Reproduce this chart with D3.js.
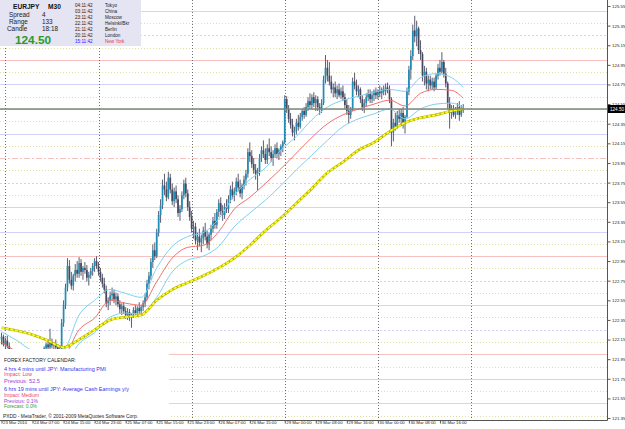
<!DOCTYPE html>
<html><head><meta charset="utf-8">
<script src="https://cdn.jsdelivr.net/npm/d3@7/dist/d3.min.js"></script>
<style>body{margin:0;background:#fff}svg{display:block}</style>
</head><body>
<svg id="c" width="625" height="429"></svg>
<script>
// ---------- DATA ----------
const symbol = "EURJPY", timeframe = "M30";
const bid = 124.50;
const opens = [122.15,122.18,122.10,122.14,122.08,122.03,121.99,121.95,121.97,121.94,121.91,121.93,121.96,121.94,121.90,121.92,121.95,121.93,121.94,121.97,121.96,121.98,122.00,122.06,122.10,122.07,122.12,122.09,122.10,122.07,122.04,122.05,122.32,122.50,122.68,122.90,122.76,122.70,122.80,122.86,122.82,122.93,122.84,122.88,122.86,122.78,122.81,122.85,122.90,122.95,122.90,122.84,122.78,122.72,122.66,122.52,122.55,122.60,122.62,122.56,122.59,122.51,122.46,122.49,122.44,122.40,122.43,122.38,122.41,122.45,122.42,122.47,122.44,122.48,122.52,122.58,122.72,122.80,122.94,123.06,123.00,123.24,123.42,123.52,123.72,123.68,123.60,123.80,123.68,123.56,123.66,123.58,123.44,123.48,123.62,123.74,123.64,123.50,123.40,123.28,123.30,123.16,123.20,123.14,123.18,123.26,123.20,123.12,123.22,123.28,123.36,123.32,123.45,123.54,123.46,123.42,123.50,123.48,123.58,123.68,123.62,123.66,123.76,123.70,123.64,123.72,123.78,123.84,124.06,124.02,123.94,123.88,123.84,123.86,124.00,124.08,124.04,123.98,124.10,124.06,124.00,124.04,124.10,124.04,124.08,124.12,124.16,124.60,124.50,124.40,124.34,124.26,124.28,124.36,124.32,124.42,124.48,124.44,124.52,124.58,124.54,124.62,124.56,124.60,124.52,124.50,124.56,124.80,124.92,124.84,124.78,124.70,124.72,124.66,124.70,124.64,124.68,124.62,124.54,124.48,124.44,124.50,124.78,124.74,124.68,124.70,124.60,124.52,124.56,124.62,124.66,124.60,124.64,124.68,124.64,124.68,124.66,124.70,124.68,124.72,124.70,124.60,124.26,124.36,124.32,124.44,124.40,124.46,124.36,124.42,124.68,124.90,125.04,125.30,125.24,125.32,125.10,125.06,124.84,124.88,124.76,124.80,124.74,124.78,124.72,124.84,124.92,124.88,124.98,124.86,124.76,124.56,124.46,124.50,124.44,124.48,124.52,124.44,124.50];
const highs = [122.22,122.20,122.17,122.19,122.12,122.06,122.01,121.99,122.00,121.97,121.95,121.98,122.00,121.96,121.94,121.97,122.00,121.96,121.99,122.01,122.00,122.02,122.08,122.12,122.14,122.26,122.16,122.12,122.15,122.10,122.08,122.36,122.55,122.72,122.98,122.96,122.84,122.82,122.92,122.95,122.99,122.97,122.90,122.94,122.91,122.84,122.88,122.93,122.98,123.00,122.94,122.88,122.82,122.78,122.70,122.58,122.64,122.68,122.66,122.63,122.62,122.55,122.52,122.53,122.48,122.47,122.46,122.42,122.48,122.50,122.49,122.53,122.50,122.55,122.62,122.76,122.84,122.98,123.12,123.14,123.28,123.46,123.58,123.78,123.84,123.76,123.86,123.84,123.74,123.70,123.72,123.62,123.52,123.66,123.78,123.80,123.68,123.56,123.46,123.36,123.34,123.24,123.28,123.22,123.30,123.34,123.26,123.24,123.32,123.40,123.44,123.48,123.58,123.60,123.52,123.54,123.58,123.62,123.72,123.76,123.70,123.80,123.84,123.78,123.74,123.82,123.88,124.10,124.16,124.08,124.00,123.94,123.90,124.04,124.12,124.18,124.10,124.14,124.20,124.12,124.08,124.14,124.16,124.10,124.14,124.18,124.64,124.63,124.54,124.46,124.40,124.32,124.40,124.44,124.46,124.50,124.52,124.56,124.62,124.66,124.65,124.67,124.64,124.63,124.56,124.60,124.84,125.05,125.00,124.98,124.84,124.76,124.78,124.74,124.76,124.72,124.74,124.66,124.60,124.54,124.52,124.82,124.87,124.80,124.74,124.72,124.64,124.60,124.66,124.70,124.70,124.68,124.70,124.72,124.70,124.74,124.72,124.74,124.76,124.77,124.74,124.62,124.40,124.46,124.48,124.50,124.50,124.52,124.44,124.72,124.94,125.10,125.36,125.45,125.40,125.34,125.20,125.08,124.94,124.92,124.84,124.84,124.82,124.82,124.86,124.96,125.00,125.08,125.00,124.92,124.78,124.62,124.54,124.54,124.52,124.56,124.58,124.54,124.55];
const lows = [122.10,122.08,122.04,122.06,122.00,121.96,121.93,121.90,121.92,121.88,121.87,121.90,121.92,121.88,121.86,121.89,121.91,121.89,121.91,121.93,121.93,121.94,121.98,122.03,122.04,122.05,122.06,122.04,122.05,122.02,122.00,122.03,122.28,122.46,122.64,122.72,122.66,122.65,122.74,122.78,122.78,122.80,122.76,122.82,122.74,122.70,122.77,122.80,122.84,122.87,122.80,122.74,122.68,122.62,122.48,122.45,122.50,122.55,122.52,122.50,122.48,122.42,122.40,122.41,122.36,122.35,122.34,122.27,122.37,122.38,122.39,122.41,122.39,122.44,122.48,122.55,122.66,122.76,122.88,122.96,122.98,123.20,123.34,123.48,123.62,123.56,123.58,123.64,123.52,123.50,123.54,123.40,123.36,123.45,123.58,123.60,123.46,123.36,123.24,123.18,123.12,123.06,123.10,123.04,123.12,123.16,123.08,123.06,123.16,123.24,123.28,123.28,123.40,123.42,123.36,123.38,123.44,123.44,123.54,123.58,123.56,123.62,123.66,123.60,123.58,123.68,123.72,123.80,123.96,123.90,123.84,123.78,123.67,123.82,123.96,124.00,123.94,123.94,124.02,123.96,123.92,124.00,124.00,123.98,124.02,124.06,124.14,124.46,124.36,124.30,124.22,124.18,124.24,124.28,124.30,124.38,124.40,124.42,124.48,124.50,124.50,124.52,124.48,124.48,124.44,124.46,124.54,124.76,124.78,124.74,124.66,124.62,124.62,124.60,124.62,124.60,124.58,124.50,124.44,124.35,124.40,124.48,124.70,124.64,124.62,124.56,124.48,124.46,124.52,124.58,124.56,124.56,124.58,124.60,124.60,124.62,124.60,124.64,124.64,124.66,124.56,124.12,124.17,124.28,124.30,124.36,124.34,124.30,124.25,124.40,124.64,124.80,125.00,125.18,125.14,125.06,125.00,124.78,124.74,124.70,124.68,124.70,124.70,124.68,124.70,124.80,124.84,124.86,124.82,124.72,124.50,124.30,124.40,124.42,124.40,124.44,124.38,124.42,124.46];
const closes = [122.18,122.10,122.14,122.08,122.03,121.99,121.95,121.97,121.94,121.91,121.93,121.96,121.94,121.90,121.92,121.95,121.93,121.94,121.97,121.96,121.98,122.00,122.06,122.10,122.07,122.12,122.09,122.10,122.07,122.04,122.05,122.32,122.50,122.68,122.90,122.76,122.70,122.80,122.86,122.82,122.93,122.84,122.88,122.86,122.78,122.81,122.85,122.90,122.95,122.90,122.84,122.78,122.72,122.66,122.52,122.55,122.60,122.62,122.56,122.59,122.51,122.46,122.49,122.44,122.40,122.43,122.38,122.41,122.45,122.42,122.47,122.44,122.48,122.52,122.58,122.72,122.80,122.94,123.06,123.00,123.24,123.42,123.52,123.72,123.68,123.60,123.80,123.68,123.56,123.66,123.58,123.44,123.48,123.62,123.74,123.64,123.50,123.40,123.28,123.30,123.16,123.20,123.14,123.18,123.26,123.20,123.12,123.22,123.28,123.36,123.32,123.45,123.54,123.46,123.42,123.50,123.48,123.58,123.68,123.62,123.66,123.76,123.70,123.64,123.72,123.78,123.84,124.06,124.02,123.94,123.88,123.84,123.86,124.00,124.08,124.04,123.98,124.10,124.06,124.00,124.04,124.10,124.04,124.08,124.12,124.16,124.60,124.50,124.40,124.34,124.26,124.28,124.36,124.32,124.42,124.48,124.44,124.52,124.58,124.54,124.62,124.56,124.60,124.52,124.50,124.56,124.80,124.92,124.84,124.78,124.70,124.72,124.66,124.70,124.64,124.68,124.62,124.54,124.48,124.44,124.50,124.78,124.74,124.68,124.70,124.60,124.52,124.56,124.62,124.66,124.60,124.64,124.68,124.64,124.68,124.66,124.70,124.68,124.72,124.70,124.60,124.26,124.36,124.32,124.44,124.40,124.46,124.36,124.42,124.68,124.90,125.04,125.30,125.24,125.32,125.10,125.06,124.84,124.88,124.76,124.80,124.74,124.78,124.72,124.84,124.92,124.88,124.98,124.86,124.76,124.56,124.46,124.50,124.44,124.48,124.52,124.44,124.50,124.50];

// indicator lines, read every 8 bars
const maIndex   = [0,8,16,24,32,40,48,56,64,72,80,88,96,104,112,120,128,136,144,152,160,168,176,184,192,200,208,216,224,232,238];
const slowMA    = [122.27,122.24,122.20,122.14,122.07,122.15,122.25,122.35,122.38,122.40,122.55,122.66,122.73,122.80,122.88,122.98,123.11,123.26,123.39,123.54,123.69,123.85,123.96,124.08,124.16,124.27,124.36,124.41,124.44,124.48,124.50];
const fastMA    = [122.12,122.03,121.98,121.97,121.99,122.25,122.37,122.55,122.52,122.50,122.74,122.98,123.09,123.11,123.25,123.48,123.60,123.74,123.89,124.05,124.21,124.35,124.44,124.50,124.55,124.59,124.53,124.66,124.70,124.69,124.61];
const envUpper  = [122.23,122.14,122.04,122.02,122.05,122.40,122.55,122.66,122.62,122.58,122.88,123.10,123.20,123.24,123.38,123.62,123.78,123.90,124.08,124.22,124.39,124.52,124.59,124.63,124.67,124.70,124.68,124.82,124.86,124.82,124.72];
const envLower  = [122.01,121.92,121.87,121.86,121.88,122.11,122.22,122.38,122.42,122.41,122.58,122.84,122.96,123.00,123.10,123.30,123.44,123.57,123.72,123.88,124.03,124.18,124.32,124.40,124.45,124.50,124.40,124.50,124.55,124.56,124.52];

// round-number levels
const levels = [125.5,125.375,125.25,125.125,125.0,124.875,124.75,124.625,124.5,124.375,124.25,124.125,124.0,123.875,123.75,123.625,123.5,123.375,123.25,123.125,123.0,122.875,122.75,122.625,122.5,122.375,122.25,122.125,122.0,121.875,121.75,121.625,121.5,121.375];

const priceTickLabels = ["125.55","125.35","125.15","124.95","124.75","124.55","124.35","124.15","123.95","123.75","123.55","123.35","123.15","122.95","122.75","122.55","122.35","122.15","121.95","121.75","121.55","121.35"];
const timeTickIndex = [0,16,32,48,64,80,96,112,128,146,162,178,194,210,226];
const timeTickLabels = ["23 Mar 2010","24 Mar 07:00","24 Mar 15:00","24 Mar 23:00","25 Mar 07:00","25 Mar 15:00","25 Mar 23:00","26 Mar 07:00","26 Mar 15:00","29 Mar 00:00","29 Mar 08:00","29 Mar 16:00","30 Mar 00:00","30 Mar 08:00","30 Mar 16:00"];
const daySeparators = [2,50,98,146,194,242];

const infoLabels = ["Spread","Range","Candle"];
const infoValues = ["4","133","18:18"];
const clockTimes = ["04:11:42","03:11:42","23:11:42","22:11:42","21:11:42","20:11:42","15:11:42"];
const clockCities = ["Tokyo","China","Moscow","Helsinki/Bkr","Berlin","London","New York"];
const calendarLines = ["FOREX FACTORY CALENDAR:","4 hrs 4 mins until JPY: Manufacturing PMI","Impact: Low","Previous: 52.5","6 hrs 19 mins until JPY: Average Cash Earnings y/y","Impact: Medium","Previous: 0.1%","Forecast: 0.0%"];
const copyrightText = "PXDD - MetaTrader, \u00a9 2001-2009 MetaQuotes Software Corp.";

// ---------- DRAW ----------
const svg = d3.select("#c");
const PW = 607, PH = 420;
const x = d3.scaleLinear().domain([0,100]).range([1.5,195.5]);
const y = d3.scaleLinear().domain([121.330,125.611]).range([PH,0]);

svg.append("rect").attr("width",625).attr("height",429).attr("fill","#fff");
const plot = svg.append("g");
plot.append("clipPath").attr("id","clp").append("rect").attr("width",PW).attr("height",PH);
const g = plot.append("g").attr("clip-path","url(#clp)");

// levels
const solidBlue = new Set([124.75,124.25,123.25,121.75]);
levels.forEach(v=>{
  const f = v % 1, yy = Math.round(y(v))+0.5;
  let col, dash=null;
  if (Math.abs(f) < 1e-6) { col="#f6c2c2"; if (v===124) dash="6,2,2,2"; }
  else if (Math.abs(f-0.5) < 1e-6) { col="#bcecbc"; }
  else if (Math.abs(f-0.25) < 1e-6 || Math.abs(f-0.75) < 1e-6) { col="#d2d2f8"; if(!solidBlue.has(v)) dash="2,2"; }
  else { col="#e0e0a4"; dash="1,2"; }
  g.append("line").attr("x1",0).attr("x2",PW).attr("y1",yy).attr("y2",yy)
    .attr("stroke",col).attr("stroke-width",1).attr("stroke-dasharray",dash);
});

// day separators
daySeparators.forEach(i=>{
  const xx = Math.round(x(i))+0.5;
  g.append("line").attr("x1",xx).attr("x2",xx).attr("y1",0).attr("y2",PH)
    .attr("stroke","#707070").attr("stroke-width",1).attr("stroke-dasharray","1,2");
});

// candles
const bars = closes.map((c,i)=>({i,o:opens[i],h:highs[i],l:lows[i],c}));
const cg = g.append("g");
cg.selectAll(".w").data(bars).join("line")
  .attr("x1",d=>x(d.i)).attr("x2",d=>x(d.i))
  .attr("y1",d=>y(Math.max(d.h,d.o,d.c))).attr("y2",d=>y(Math.min(d.l,d.o,d.c)))
  .attr("stroke","#5c5c6e").attr("stroke-width",1);
cg.selectAll(".b").data(bars).join("rect")
  .attr("x",d=>x(d.i)-0.85).attr("width",1.7)
  .attr("y",d=>y(Math.max(d.o,d.c)))
  .attr("height",d=>Math.max(1,Math.abs(y(d.o)-y(d.c))))
  .attr("fill",d=>d.c>=d.o?"#1f8db5":"#474760");

// indicator lines
const mk = arr => maIndex.map((k,j)=>[k,arr[j]]);
const line = d3.line().x(d=>x(d[0])).y(d=>y(d[1])).curve(d3.curveMonotoneX);
[envUpper,envLower].forEach(a=>g.append("path").attr("d",line(mk(a))).attr("fill","none").attr("stroke","#7fd0f4").attr("stroke-width",1));
g.append("path").attr("d",line(mk(fastMA))).attr("fill","none").attr("stroke","#f07070").attr("stroke-width",1);
g.append("path").attr("d",line(mk(slowMA))).attr("fill","none").attr("stroke","#b8b800").attr("stroke-width",2.6);
g.append("path").attr("d",line(mk(slowMA))).attr("fill","none").attr("stroke","#ffff20").attr("stroke-width",1.6).attr("stroke-dasharray","3,1.5");

// bid line
const by = y(bid);
g.append("line").attr("x1",0).attr("x2",PW).attr("y1",by).attr("y2",by).attr("stroke","#7c8a78").attr("stroke-width",1.6);

// info panel
svg.append("rect").attr("x",0).attr("y",0).attr("width",141).attr("height",46).attr("fill","#e4e4f2");
const F = "Liberation Sans, Arial, sans-serif";
svg.append("text").attr("x",13).attr("y",9).attr("font-family",F).attr("font-size",6.6).attr("font-weight","bold").attr("fill","#111").text(symbol);
svg.append("text").attr("x",48).attr("y",9).attr("font-family",F).attr("font-size",6.6).attr("font-weight","bold").attr("fill","#111").text(timeframe);
infoLabels.forEach((t,k)=>{
  const yy = 17.2 + k*7;
  svg.append("text").attr("x",k===2?7:9).attr("y",yy).attr("font-family",F).attr("font-size",6.4).attr("fill","#222").text(t);
  svg.append("text").attr("x",42).attr("y",yy).attr("font-family",F).attr("font-size",6.4).attr("fill","#222").text(infoValues[k]);
});
svg.append("text").attr("x",15).attr("y",44).attr("font-family",F).attr("font-size",11.8).attr("font-weight","bold").attr("fill","#2a9a2a").text(bid.toFixed(2));
clockTimes.forEach((t,k)=>{
  const yy = 7.4 + k*5.95, last = k===clockTimes.length-1;
  svg.append("text").attr("x",75).attr("y",yy).attr("font-family",F).attr("font-size",4.6).attr("fill",last?"#1a1aff":"#222").text(t);
  svg.append("text").attr("x",105).attr("y",yy).attr("font-family",F).attr("font-size",4.6).attr("fill",last?"#f03050":"#222").text(clockCities[k]);
});

// calendar box
svg.append("rect").attr("x",0).attr("y",349).attr("width",169).attr("height",70).attr("fill","#fff");
const calY = [361.7,371,376,382.7,391,396.7,402.7,408.4];
const calCol = ["#222","#3333ee","#f04060","#a040d0","#3333ee","#f04060","#a040d0","#30a030"];
const calW = [72,102,28,36,125,35,34,33];
calendarLines.forEach((t,k)=>{
  svg.append("text").attr("x",4).attr("y",calY[k]).attr("font-family",F).attr("font-size",5)
    .attr("fill",calCol[k]).attr("textLength",calW[k]).attr("lengthAdjust","spacingAndGlyphs").text(t);
});
svg.append("text").attr("x",3).attr("y",417.7).attr("font-family",F).attr("font-size",5)
  .attr("fill","#222").attr("textLength",135).attr("lengthAdjust","spacingAndGlyphs").text(copyrightText);

// axes frame
svg.append("line").attr("x1",PW+0.5).attr("x2",PW+0.5).attr("y1",0).attr("y2",PH+0.5).attr("stroke","#555");
svg.append("line").attr("x1",0).attr("x2",PW+0.5).attr("y1",PH+0.5).attr("y2",PH+0.5).attr("stroke","#555");

// right price axis
const ya = svg.append("g").attr("transform",`translate(${PW+0.5},0)`)
  .call(d3.axisRight(y).tickValues(priceTickLabels.map(Number)).tickSize(3).tickPadding(1.5).tickFormat((d,k)=>priceTickLabels[k]));
ya.select(".domain").remove();
ya.selectAll("line").attr("stroke","#555");
ya.selectAll("text").attr("font-family",F).attr("font-size",4.4).attr("fill","#222");

// bid label
svg.append("rect").attr("x",PW+1).attr("y",by-4).attr("width",18).attr("height",8).attr("fill","#000");
svg.append("text").attr("x",PW+3).attr("y",by+1.6).attr("font-family",F).attr("font-size",4.6).attr("fill","#fff").text(bid.toFixed(2));

// bottom time axis
const xa = svg.append("g").attr("transform",`translate(0,${PH+0.5})`)
  .call(d3.axisBottom(x).tickValues(timeTickIndex).tickSize(3).tickFormat((d,k)=>timeTickLabels[k]));
xa.select(".domain").remove();
xa.selectAll("line").attr("stroke","#555");
xa.selectAll("text").attr("font-family",F).attr("font-size",4.3).attr("fill","#222")
  .attr("text-anchor","start").attr("dx",1).attr("dy",-2.2);
</script>
</body></html>
